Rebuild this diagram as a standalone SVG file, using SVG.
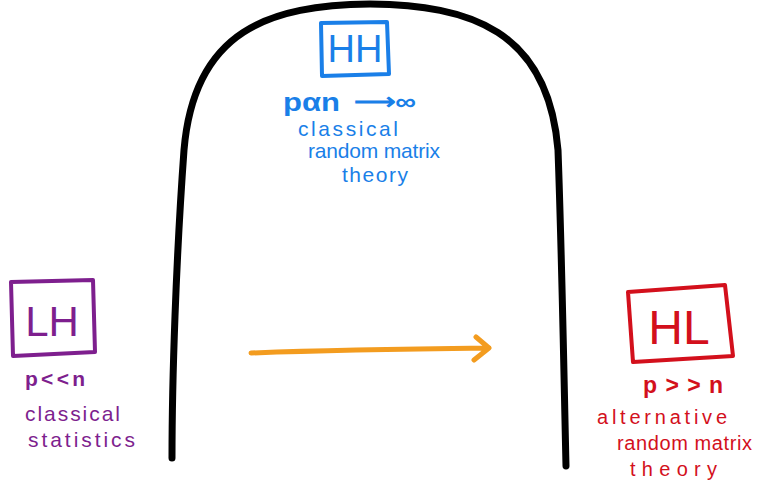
<svg xmlns="http://www.w3.org/2000/svg" width="758" height="485" viewBox="0 0 758 485">
<style>
.box{fill:none;stroke-width:4;stroke-linejoin:round}
.t{font-family:"Liberation Sans",Arial,sans-serif}
.blue{fill:#1a7fe8}.bs{stroke:#1a7fe8}
.pur{fill:#7e1f8e}.ps{stroke:#7e1f8e}
.red{fill:#d3101c}.rs{stroke:#d3101c}
</style>
<rect width="758" height="485" fill="#fff"/>
<g id="arch">
<path d="M172,458 C172,380 176,260 184,150 C194,30 270,5 370,4 C470,5 548,30 558,150 C562,260 564,380 566,466" fill="none" stroke="#000" stroke-width="7" stroke-linecap="round"/>
</g>
<g id="HH">
<path class="box bs" d="M321,23 L387,22 L389,74 L322,76 Z"/>
<text class="t blue" x="355" y="62" font-size="38" text-anchor="middle">HH</text>
<text class="t blue" x="283" y="111" font-size="26" font-weight="bold" textLength="57" lengthAdjust="spacingAndGlyphs">pαn</text>
<text class="t blue" x="354" y="110" font-size="24" font-weight="bold" textLength="62" lengthAdjust="spacingAndGlyphs">⟶∞</text>
<text class="t blue" x="298" y="136" font-size="21" textLength="100" lengthAdjust="spacing">classical</text>
<text class="t blue" x="308" y="158" font-size="21" textLength="132" lengthAdjust="spacing">random matrix</text>
<text class="t blue" x="342" y="182" font-size="21" textLength="66" lengthAdjust="spacing">theory</text>
</g>
<g id="LH">
<path class="box ps" d="M11,282 L93,280 L95,352 L13,356 Z"/>
<text class="t pur" x="52" y="336" font-size="42" text-anchor="middle">LH</text>
<text class="t pur" x="25" y="386" font-size="21" font-weight="bold" textLength="60" lengthAdjust="spacing">p&lt;&lt;n</text>
<text class="t pur" x="25" y="421" font-size="21" textLength="95" lengthAdjust="spacing">classical</text>
<text class="t pur" x="28" y="447" font-size="21" textLength="107" lengthAdjust="spacing">statistics</text>
</g>
<g id="HL">
<path class="box rs" d="M628,292 L725,285 L733,356 L633,362 Z"/>
<text class="t red" x="679" y="344" font-size="48" text-anchor="middle">HL</text>
<text class="t red" x="643" y="393" font-size="23" font-weight="bold" textLength="80" lengthAdjust="spacing">p&gt;&gt;n</text>
<text class="t red" x="597" y="424" font-size="20" textLength="130" lengthAdjust="spacing">alternative</text>
<text class="t red" x="617" y="450" font-size="20" textLength="135" lengthAdjust="spacing">random matrix</text>
<text class="t red" x="630" y="476" font-size="20" textLength="87" lengthAdjust="spacing">theory</text>
</g>
<g id="connectors">
<path d="M251,353 C330,350 400,349 489,348 M476,337 L489,348 L474,360" fill="none" stroke="#f39c1f" stroke-width="5" stroke-linecap="round" stroke-linejoin="round"/>
</g>
</svg>
